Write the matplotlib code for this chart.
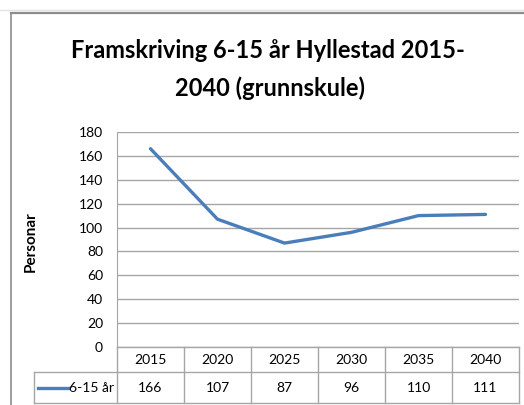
import numpy as np
import matplotlib
matplotlib.use('Agg')
from matplotlib import pyplot as plt
from matplotlib.lines import Line2D

# data
years = ['2015', '2020', '2025', '2030', '2035', '2040']
values = [166, 107, 87, 96, 110, 111]
series_label = '6-15 år'
title_lines = ['Framskriving 6-15 år Hyllestad 2015-', '2040 (grunnskule)']
y_label = 'Personar'
y_ticks = list(range(0, 181, 20))

plt.rcParams['font.family'] = ['Lato', 'DejaVu Sans']

W, H = 524, 405
BLUE = '#4A7EBB'
GRID = '#a6a6a6'
FRAME = '#8c8c8c'

fig = plt.figure(figsize=(W / 100, H / 100), dpi=100)

# spreadsheet grid line and chart frame
fig.add_artist(Line2D([0, 1], [1 - 10 / H, 1 - 10 / H], transform=fig.transFigure, color='#e3e3e3', lw=1))
fig.add_artist(Line2D([11 / W, 1], [1 - 13 / H, 1 - 13 / H], transform=fig.transFigure, color=FRAME, lw=1.6))
fig.add_artist(Line2D([11 / W, 11 / W], [0, 1 - 13 / H], transform=fig.transFigure, color=FRAME, lw=1.2))

fig.text(268 / W, 1 - 58 / H, title_lines[0], ha='center', va='baseline', fontsize=17, fontweight='bold')
fig.text(270 / W, 1 - 96 / H, title_lines[1], ha='center', va='baseline', fontsize=17, fontweight='bold')

ax = fig.add_axes([117 / W, 1 - 347 / H, 402 / W, 215 / H])
x = np.arange(len(years))
ax.plot(x, values, color=BLUE, lw=2.4, solid_capstyle='round', clip_on=False, zorder=3)
ax.set_xlim(-0.5, len(years) - 0.5)
ax.set_ylim(0, 180)
ax.set_yticks(y_ticks)
ax.set_xticks([])
ax.grid(axis='y', color=GRID, lw=1)
ax.set_axisbelow(True)
for s in ['top', 'right', 'bottom']:
    ax.spines[s].set_visible(False)
ax.spines['left'].set_color(GRID)
ax.tick_params(axis='y', length=0, pad=10, labelsize=10, labelcolor='#000000')
ax.set_ylabel(y_label, fontsize=11, fontweight='bold')
ax.yaxis.set_label_coords((38 - 117) / 402, 0.49)

# data table under the plot
tr = ax.get_xaxis_transform()
row1 = -25 / 215
row2 = -56 / 215
legend_w = 83 / 67
left_edge = -0.5 - legend_w
ax.plot([-0.5, len(years) - 0.5], [0, 0], transform=tr, color=GRID, lw=1, clip_on=False)
ax.plot([left_edge, len(years) - 0.5], [row1, row1], transform=tr, color=GRID, lw=1, clip_on=False)
ax.plot([left_edge, len(years) - 0.5], [row2, row2], transform=tr, color=GRID, lw=1, clip_on=False)
for b in np.arange(len(years) + 1) - 0.5:
    ax.plot([b, b], [0, row2], transform=tr, color=GRID, lw=1, clip_on=False)
ax.plot([left_edge, left_edge], [row1, row2], transform=tr, color=GRID, lw=1, clip_on=False)

for i, (yr, v) in enumerate(zip(years, values)):
    ax.text(i, row1 / 2, yr, transform=tr, ha='center', va='center', fontsize=10)
    ax.text(i, (row1 + row2) / 2, str(v), transform=tr, ha='center', va='center', fontsize=10)

ymid = (row1 + row2) / 2
ax.plot([-0.5 - 79 / 67, -0.5 - 49 / 67], [ymid, ymid], transform=tr, color=BLUE, lw=2.4, clip_on=False)
ax.text(-0.5 - 48 / 67, ymid, series_label, transform=tr, ha='left', va='center', fontsize=10)

fig.savefig('out.png', dpi=100)
